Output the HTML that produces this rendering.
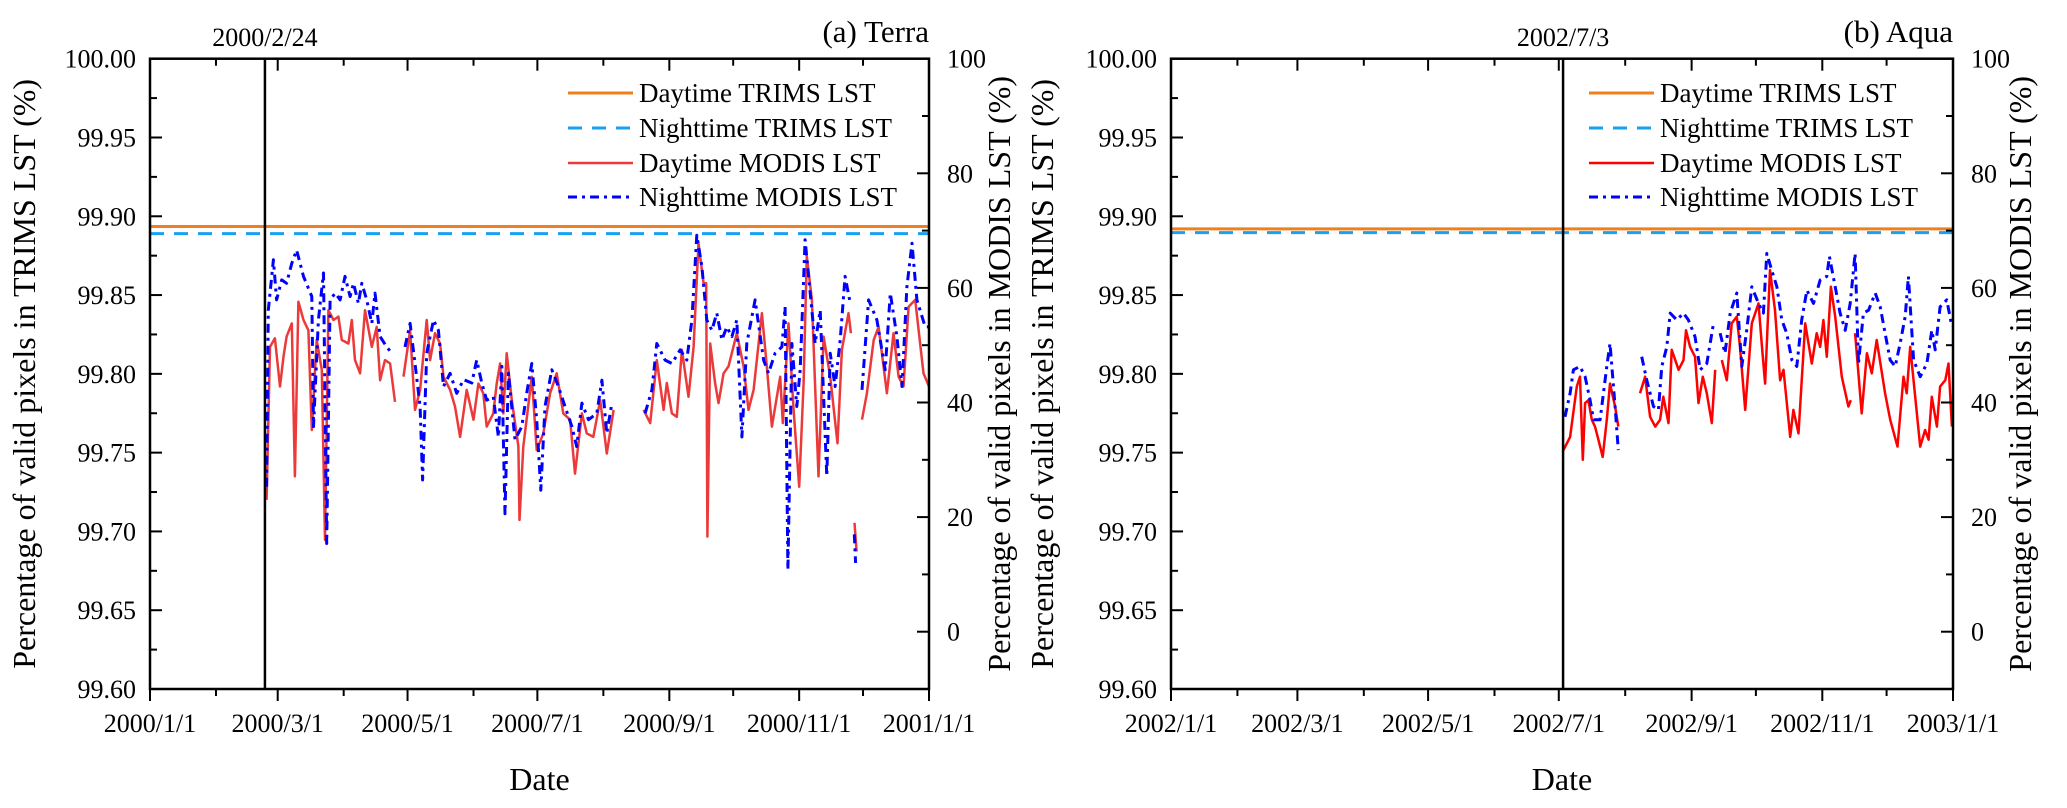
<!DOCTYPE html>
<html><head><meta charset="utf-8"><title>TRIMS vs MODIS valid pixels</title>
<style>
html,body{margin:0;padding:0;background:#fff;}
svg text{font-family:"Liberation Serif","Times New Roman",serif;fill:#000;}
</style></head>
<body>
<svg id="chart" width="2067" height="803" viewBox="0 0 2067 803" xmlns="http://www.w3.org/2000/svg">
<g id="panelA"></g>
<g id="panelB"></g>
</svg>
<script>
// ---------- data ----------
const leftTicks = ["100.00","99.95","99.90","99.85","99.80","99.75","99.70","99.65","99.60"];
const leftTickVals = [100,99.95,99.90,99.85,99.80,99.75,99.70,99.65,99.60];
const rightTicks = ["100","80","60","40","20","0"];
const rightTickVals = [100,80,60,40,20,0];
const terraXLabels = ["2000/1/1","2000/3/1","2000/5/1","2000/7/1","2000/9/1","2000/11/1","2001/1/1"];
const terraXDays = [0,60,121,182,244,305,366];
const terraMinorDays = [31,91,152,213,274,335];
const aquaXLabels = ["2002/1/1","2002/3/1","2002/5/1","2002/7/1","2002/9/1","2002/11/1","2003/1/1"];
const aquaXDays = [0,59,120,181,243,304,365];
const aquaMinorDays = [31,90,151,212,273,334];
const trimsTerra = [99.8935, 99.889];  // daytime, nighttime
const trimsAqua = [99.892, 99.8896];
const terraEventDay = 54, aquaEventDay = 183;

const terraDayD = [54.8,56.4,58.7,61.1,62.7,64.2,66.6,68.1,69.7,72.1,74.4,76,78.3,80.7,82.2,83.8,86.2,88.5,90.1,93.2,94.8,96.3,98.7,101,104.2,106.5,108.1,110.4,112.8,115.1,117,119.1,122.2,124.5,126.9,130,131.6,133.9,136.3,137.9,141,143.3,145.7,148.8,152,154.3,156.6,158.2,161.3,162.9,164.5,166,167.6,170,173.1,173.6,175.4,179.4,181.7,184.8,188,191.1,194.2,197.4,199.7,202.9,205.2,208.3,211.5,214.6,217.8,225,231.9,235,238.1,241.3,242.8,245.2,247.5,249.9,253,255.4,257.7,260.1,261.3,261.9,263.2,265.5,267.1,269.5,271.8,275.7,278.9,281.2,283.6,287.5,289.8,292.2,296.1,297.3,300,302.4,305,307.1,308.6,311,314.1,316.5,319.6,323,325.1,328.2,329.3,330,331,332,333,334.5,336.8,340,342.3,346.2,349.3,351.7,354,356.4,359.5,363.4,366];
const terraDayV = [23,49.7,51.2,42.8,48,51.5,53.8,27.1,57.6,54.4,52.6,35.2,50.9,45.7,16,56.1,54.4,55,50.9,50.3,54.4,47.4,45.1,56.1,49.7,53.2,43.9,47.4,46.8,40.1,null,44.5,52.6,38.7,42.2,54.4,47.4,52.1,50.3,44.5,42.2,39.3,34,42.2,37,43.3,41.6,35.8,38.1,43.3,46.8,38.1,48.6,40.4,32.3,19.5,32.3,44.5,31.7,34.6,41.6,45.1,38.1,37,27.6,38.1,34.6,34,40.4,31.1,38.7,null,38.7,36.4,47.4,38.7,43.4,38.1,37.5,49.2,41,49.7,67.8,60.8,60.8,16.6,50.3,43.4,39.9,45.1,46.3,52.1,46.3,38.7,42.2,55.6,46.3,35.8,44.5,36.4,53.8,38.7,25.3,43.4,65.5,57.9,27.1,51.5,44.5,32.9,49.2,55.6,52.1,null,19,14,null,37,41.6,50.9,53.2,41.6,52.1,44.5,42.8,56.7,57.9,45.1,42.8];

const terraNightD = [54.8,55.6,58,59.5,61.9,64.2,66.6,68.9,72.1,76,76.8,79.1,81.5,83,84.6,87,89.3,91.6,94,95.6,97.9,99.5,101.8,104.2,105.7,108.1,111.2,113.6,116,119.8,122.2,124.5,126.9,128.1,130,133.2,135.5,137.9,141,144.1,147.3,151.2,153.5,155.9,158.2,161.3,163.7,165.3,166.8,168.4,171.5,174.7,177,179.4,181.7,183.6,185.6,188.8,191.9,195,198.2,200.5,202.9,206,209.9,212.3,214.6,217,225,232.6,235.8,238.1,242,245.2,249.1,252.2,254.6,256.9,259.3,261.6,264,266.3,268.7,271,273.4,275.7,278.1,280.4,284.3,288.3,290.6,293.7,296.9,298.4,299.7,301.6,303.9,305.5,307.8,310.2,312.5,314.9,318,319.6,321.9,324.3,326.6,328.7,330,330.9,331.5,333,334.5,337.6,341.5,345.4,347.8,350.9,353.3,355.6,358,360.3,364.2,366];
const terraNightV = [25.3,56.1,64.9,57.9,61.4,60.8,64.3,66.6,62,58.5,35.8,54.4,62.6,15.4,57.9,59.1,57.9,62,58.5,60.8,57.3,60.8,57.9,53.8,59.1,51.5,49.7,48.6,null,49.7,53.8,46.8,39.3,26.5,48.6,54.4,52.6,42.8,45.1,41.6,44,43.4,47.4,43.4,40.4,41,34,46.3,20.6,45.1,33.5,35.8,41.6,46.8,37,24.7,39.3,45.7,42.8,39.3,35.8,32.3,39.9,37,38.1,43.9,34.6,39.9,null,38.1,42.2,50.3,47.4,46.8,49.2,47.4,54.4,69.2,63.7,54.4,52.6,55.6,50.9,53.2,51.5,54.4,34,50.3,57.9,47.4,45.1,48.6,49.7,56.7,10.8,50.3,39.3,45.7,68.4,59.1,50.3,56.1,27.1,48.6,42.8,50.9,62,57.9,null,17,12,null,42.2,57.9,54.4,45.7,59.1,51.5,42.8,60.2,67.8,57.9,53.2,53.2];

const aquaDayD = [183.2,186.3,189.4,190.9,192.2,193.3,194.8,196.4,197.9,199.5,201.5,203.4,204.9,207.3,208.8,214,218.9,221.3,223.6,226,228.3,229.8,232.2,233.7,236.9,239.2,240.4,242.3,244.6,246.2,248.2,250.1,252.4,254,255.5,257.1,259.4,261.7,264.1,265.6,268,271.1,274.2,275.7,277.3,279.6,281.9,284.3,285.9,289,290.5,292.9,296,299.1,301.4,303,304.5,306.1,308,310,313.1,316.2,317.3,318.3,319.3,322.4,324.8,327.1,329.4,333.3,335.7,339.1,341.9,343.4,345,349.7,352,353.6,355.1,357.5,359,361.4,362.9,364.5];
const aquaDayV = [31.7,34,42.8,44.5,30,39.9,40.4,37,35.8,33.5,30.5,37,43.3,39.3,35.8,null,41.6,44.5,37.5,35.8,37,41,36.4,49.2,45.7,47.4,52.6,49.7,48,39.9,44.5,41.6,36.4,45.7,null,47.4,43.9,53.8,55,49.7,38.7,53.8,57.3,50.3,43.3,63.1,56.1,43.9,45.7,34,38.7,34.6,53.8,46.8,52.1,49.7,54.4,48,60.2,55,44.5,39.3,40.4,null,52.1,38.1,48.6,45.1,50.9,41.6,37,32.3,44.5,41.6,49.7,32.3,35.2,33.5,41,35.8,42.8,43.9,46.8,35.8];

const aquaNightD = [183.9,186.3,187.8,190.9,193.3,195.6,197.2,200.3,203.4,204.9,207.3,208.8,214,219.7,222.1,225.2,227.5,229.1,231.4,233,236.1,239.2,241.5,244.6,247,250.1,253.2,254.8,256.3,258.6,261,264.1,266.4,268.7,271.1,274.2,276.5,278.1,280.4,282.8,285.1,287.4,289.8,292.1,294.4,296.8,299.9,303,306.1,307.3,310,312.3,314.7,317,319.3,320.9,323.2,325.6,328.7,331,333.3,335.7,338,340.3,342.7,344.2,346.6,349.7,352.8,355.1,356.7,359,362.1,364.5];
const aquaNightV = [37.5,41.6,45.7,46.3,44.5,40.4,37,37,46.3,50.3,39.3,31.7,null,48,43.9,39.3,38.7,46.3,49.7,55.6,54.4,55.6,54.4,51.5,45.7,46.8,53.8,null,52.1,48.6,55.6,59.1,46.3,52.6,60.2,57.3,55.6,66,63.1,60.2,54.4,52.1,47.4,46.3,54.4,59.6,57.3,61.4,62,65.5,60.2,55.6,52.6,57.3,66,46.8,55.6,56.1,59.1,56.7,52.1,47.4,46.3,50.3,55,62,47.4,44.5,46.8,52.6,49.2,56.7,57.9,53.2];

// ---------- geometry ----------
const TOP = 58.7, BOT = 689;
const NS = "http://www.w3.org/2000/svg";
function yL(v){ return TOP + (100 - v) / 0.4 * (BOT - TOP); }
function yR(v){ return TOP + (100 - v) / 110 * (BOT - TOP); }

function el(parent, tag, attrs, text){
  const e = document.createElementNS(NS, tag);
  for (const k in attrs) e.setAttribute(k, attrs[k]);
  if (text !== undefined) e.textContent = text;
  parent.appendChild(e);
  return e;
}

function panel(g, cfg){
  const X0 = cfg.x0, X1 = cfg.x1, nd = cfg.ndays;
  const xs = d => X0 + d / nd * (X1 - X0);

  // trims horizontal lines
  const l1 = el(g,'line',{x1:X0,x2:X1,y1:yL(cfg.trims[0]),y2:yL(cfg.trims[0]),stroke:'#f07f1e','stroke-width':3});
  
  
  const l2 = el(g,'line',{x1:X0,x2:X1,y1:yL(cfg.trims[1]),y2:yL(cfg.trims[1]),stroke:'#1aa0f0','stroke-width':3,'stroke-dasharray':'14,10'});
  
  

  // series
  function pathFor(D, V){
    let s = '', pen = false;
    for (let i = 0; i < D.length; i++){
      if (V[i] === null){ pen = false; continue; }
      s += (pen ? 'L' : 'M') + xs(D[i]).toFixed(1) + ',' + yR(V[i]).toFixed(1);
      pen = true;
    }
    return s;
  }
  const pd = el(g,'path',{d:pathFor(cfg.dayD,cfg.dayV),fill:'none',stroke:cfg.red,'stroke-width':2.5,'stroke-linejoin':'round'});
  
  
  const pn = el(g,'path',{d:pathFor(cfg.nightD,cfg.nightV),fill:'none',stroke:'#0000ff','stroke-width':3,'stroke-dasharray':'9,5,3,5','stroke-linejoin':'round'});
  
  

  // event vertical line
  const ex = xs(cfg.eventDay);
  const ev = el(g,'line',{x1:ex,x2:ex,y1:TOP,y2:BOT,stroke:'#000','stroke-width':2.5});
  
  
  const et = el(g,'text',{x:ex,y:46,'font-size':26,'text-anchor':'middle'},cfg.eventLabel);
  
  

  // frame
  const fr = el(g,'rect',{x:X0,y:TOP,width:X1-X0,height:BOT-TOP,fill:'none',stroke:'#000','stroke-width':2.5});
  
  

  // x ticks
  cfg.xDays.forEach((d,i)=>{
    const x = xs(d);
    el(g,'line',{x1:x,x2:x,y1:BOT,y2:BOT+12,stroke:'#000','stroke-width':2});
    el(g,'line',{x1:x,x2:x,y1:TOP,y2:TOP+12,stroke:'#000','stroke-width':2});
    const t = el(g,'text',{x:x,y:732,'font-size':26,'text-anchor':'middle'},cfg.xLabels[i]);
    
    
  });
  cfg.minorDays.forEach(d=>{
    const x = xs(d);
    el(g,'line',{x1:x,x2:x,y1:BOT,y2:BOT+7,stroke:'#000','stroke-width':2});
    el(g,'line',{x1:x,x2:x,y1:TOP,y2:TOP+7,stroke:'#000','stroke-width':2});
  });
  // left ticks
  leftTickVals.forEach((v,i)=>{
    const y = yL(v);
    el(g,'line',{x1:X0,x2:X0+12,y1:y,y2:y,stroke:'#000','stroke-width':2});
    if (i < leftTickVals.length-1) el(g,'line',{x1:X0,x2:X0+7,y1:yL(v-0.025),y2:yL(v-0.025),stroke:'#000','stroke-width':2});
    const t = el(g,'text',{x:X0-14,y:y+9,'font-size':26,'text-anchor':'end'},leftTicks[i]);
    
    
  });
  // right ticks
  rightTickVals.forEach((v,i)=>{
    const y = yR(v);
    el(g,'line',{x1:X1,x2:X1-12,y1:y,y2:y,stroke:'#000','stroke-width':2});
    el(g,'line',{x1:X1,x2:X1-7,y1:yR(v-10),y2:yR(v-10),stroke:'#000','stroke-width':2});
    const t = el(g,'text',{x:X1+18,y:y+9,'font-size':26,'text-anchor':'start'},rightTicks[i]);
    
    
  });
  // axis titles
  const cy = (TOP+BOT)/2;
  const lt = el(g,'text',{x:cfg.ltx,y:cy,'font-size':32,'text-anchor':'middle',transform:`rotate(-90 ${cfg.ltx} ${cy})`},'Percentage of valid pixels in TRIMS LST (%)');
  
  
  const rt = el(g,'text',{x:cfg.rtx,y:cy,'font-size':32,'text-anchor':'middle',transform:`rotate(-90 ${cfg.rtx} ${cy})`},'Percentage of valid pixels in MODIS LST (%)');
  
  
  const xt = el(g,'text',{x:(X0+X1)/2,y:790,'font-size':32,'text-anchor':'middle'},'Date');
  
  
  const pt = el(g,'text',{x:X1,y:42,'font-size':31,'text-anchor':'end'},cfg.title);
  
  

  // legend
  const lx = X0 + 418, tx = lx + 71;
  const rows = [93,128,163,197];
  const names = ['Daytime TRIMS LST','Nighttime TRIMS LST','Daytime MODIS LST','Nighttime MODIS LST'];
  const styles = [
    {stroke:'#f07f1e','stroke-width':3},
    {stroke:'#1aa0f0','stroke-width':3,'stroke-dasharray':'14,10'},
    {stroke:cfg.red,'stroke-width':2.5},
    {stroke:'#0000ff','stroke-width':3,'stroke-dasharray':'9,5,3,5'}
  ];
  rows.forEach((y,i)=>{
    const a = Object.assign({x1:lx,x2:lx+65,y1:y,y2:y},styles[i]);
    const ln = el(g,'line',a);
    
    
    const t = el(g,'text',{x:tx,y:y+9,'font-size':27},names[i]);
    
    
  });
}

panel(document.getElementById('panelA'),{
  x0:150,x1:929,ndays:366,trims:trimsTerra,eventDay:terraEventDay,eventLabel:'2000/2/24',
  xDays:terraXDays,xLabels:terraXLabels,minorDays:terraMinorDays,
  dayD:terraDayD,dayV:terraDayV,nightD:terraNightD,nightV:terraNightV,red:'#ec3a3a',
  ltx:35,rtx:1010,title:'(a) Terra'
});
panel(document.getElementById('panelB'),{
  x0:1171,x1:1953,ndays:365,trims:trimsAqua,eventDay:aquaEventDay,eventLabel:'2002/7/3',
  xDays:aquaXDays,xLabels:aquaXLabels,minorDays:aquaMinorDays,
  dayD:aquaDayD,dayV:aquaDayV,nightD:aquaNightD,nightV:aquaNightV,red:'#ff0000',
  ltx:1053,rtx:2031,title:'(b) Aqua'
});
</script>
</body></html>
